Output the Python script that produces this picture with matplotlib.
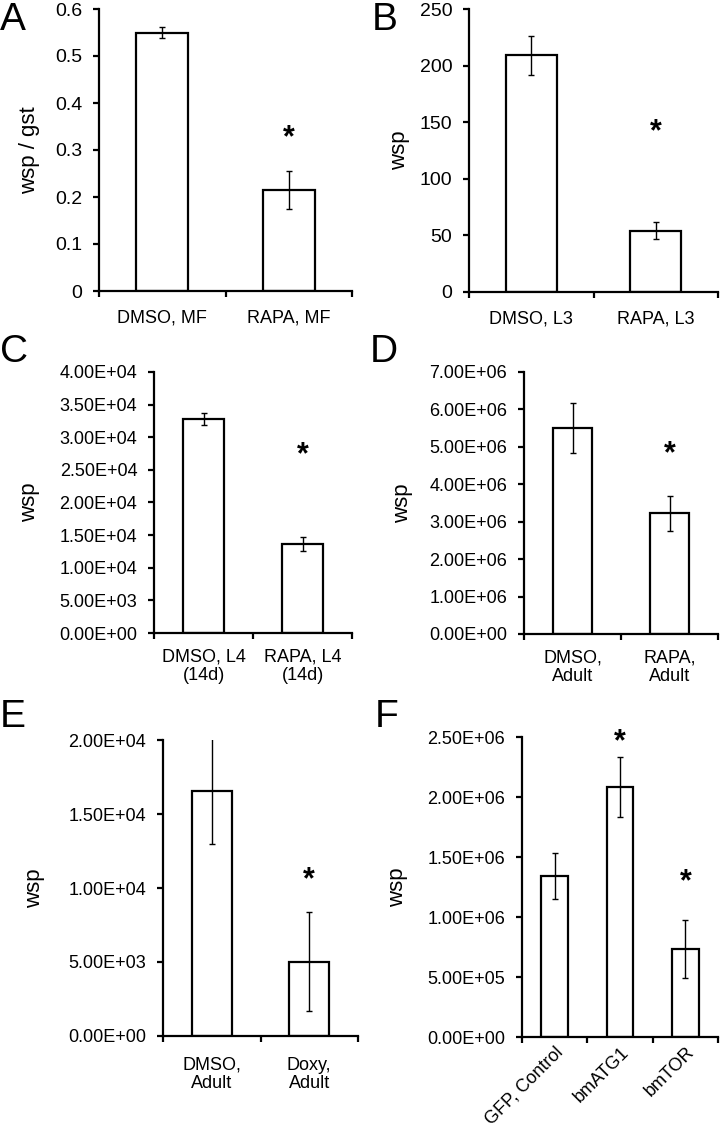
import matplotlib
matplotlib.use('Agg')
import matplotlib.pyplot as plt

plt.rcParams['font.family'] = ['Liberation Sans', 'DejaVu Sans']

# Panel data
a_labels = ['DMSO, MF', 'RAPA, MF']
a_values = [0.55, 0.215]
a_errors = [0.012, 0.04]

b_labels = ['DMSO, L3', 'RAPA, L3']
b_values = [209, 54]
b_errors = [17, 7.5]

c_labels = ['DMSO, L4\n(14d)', 'RAPA, L4\n(14d)']
c_values = [3.28e4, 1.36e4]
c_errors = [950, 1100]

d_labels = ['DMSO,\nAdult', 'RAPA,\nAdult']
d_values = [5.5e6, 3.22e6]
d_errors = [0.66e6, 0.475e6]

e_labels = ['DMSO,\nAdult', 'Doxy,\nAdult']
e_values = [1.655e4, 5.02e3]
e_errors = [3570, 3330]

f_labels = ['GFP, Control', 'bmATG1', 'bmTOR']
f_values = [1.342e6, 2.082e6, 0.735e6]
f_errors = [0.19e6, 0.25e6, 0.24e6]

W, H = 723, 1140
fig = plt.figure(figsize=(W / 100, H / 100), dpi=100)


def px_axes(left, right, top, bottom):
    return fig.add_axes([left / W, 1 - bottom / H, (right - left) / W, (bottom - top) / H])


def panel(box, letter, letter_xy, labels, values, errors, ymax, step, fmt,
          ylabel, ylabel_x, stars, tick_size, label_size, xpad, rot=0):
    ax = px_axes(*box)
    n = len(values)
    x = [i + 0.5 for i in range(n)]
    ax.bar(x, values, width=0.41, color='white', edgecolor='black', linewidth=1.6,
           yerr=errors, error_kw=dict(ecolor='black', elinewidth=1, capsize=2.5, capthick=1))
    ax.set_xlim(0, n)
    ax.set_ylim(0, ymax)
    ticks = [i * step for i in range(int(round(ymax / step)) + 1)]
    ax.set_yticks(ticks, [fmt(t) for t in ticks], fontsize=tick_size)
    ax.set_xticks(range(n + 1), [''] * (n + 1))
    ax.set_xticks(x, labels, minor=True, fontsize=label_size)
    ax.tick_params(axis='x', which='minor', length=0, pad=xpad)
    ax.tick_params(axis='both', which='major', direction='out', length=4, width=1.6,
                   pad=8)
    for t in ax.get_xticklabels(minor=True):
        if rot:
            t.set_rotation(rot)
            t.set_ha('right')
            t.set_rotation_mode('anchor')
        else:
            t.set_linespacing(1.1)
    for s in ['top', 'right']:
        ax.spines[s].set_visible(False)
    for s in ['left', 'bottom']:
        ax.spines[s].set_linewidth(1.6)
    ax.set_ylabel(ylabel, fontsize=16)
    ax.yaxis.set_label_coords((ylabel_x - box[0]) / (box[1] - box[0]), 0.5)
    for i, sy in stars:
        ax.text(x[i], sy, '*', ha='center', va='center', fontsize=22, fontweight='bold')
    fig.text(letter_xy[0] / W, 1 - letter_xy[1] / H, letter, fontsize=28,
             ha='left', va='center')
    return ax


panel((99, 352, 9, 291), 'A', (0, 20), a_labels, a_values, a_errors, 0.6, 0.1,
      lambda t: '0' if t == 0 else f'{t:.1f}', 'wsp / gst', 40, [(1, 0.325)], 14, 13, 13)

panel((469, 718, 9, 292), 'B', (372, 20), b_labels, b_values, b_errors, 250, 50,
      lambda t: f'{t:.0f}', 'wsp', 410, [(1, 141)], 14, 13, 13)

panel((154, 352, 372, 633), 'C', (0, 352), c_labels, c_values, c_errors, 4e4, 5e3,
      lambda t: f'{t:.2E}', 'wsp', 40, [(1, 2.72e4)], 13, 13, 11)

panel((524, 718, 372, 634), 'D', (370, 352), d_labels, d_values, d_errors, 7e6, 1e6,
      lambda t: f'{t:.2E}', 'wsp', 413, [(1, 4.8e6)], 13, 13, 11)

panel((163, 358, 740, 1036), 'E', (0, 717), e_labels, e_values, e_errors, 2e4, 5e3,
      lambda t: f'{t:.2E}', 'wsp', 45, [(1, 1.05e4)], 13, 13, 15)

panel((522, 718, 737, 1037), 'F', (375, 717), f_labels, f_values, f_errors, 2.5e6, 5e5,
      lambda t: f'{t:.2E}', 'wsp', 408, [(1, 2.46e6), (2, 1.29e6)], 13, 13, 5, rot=45)

fig.savefig('out.png', dpi=100)
